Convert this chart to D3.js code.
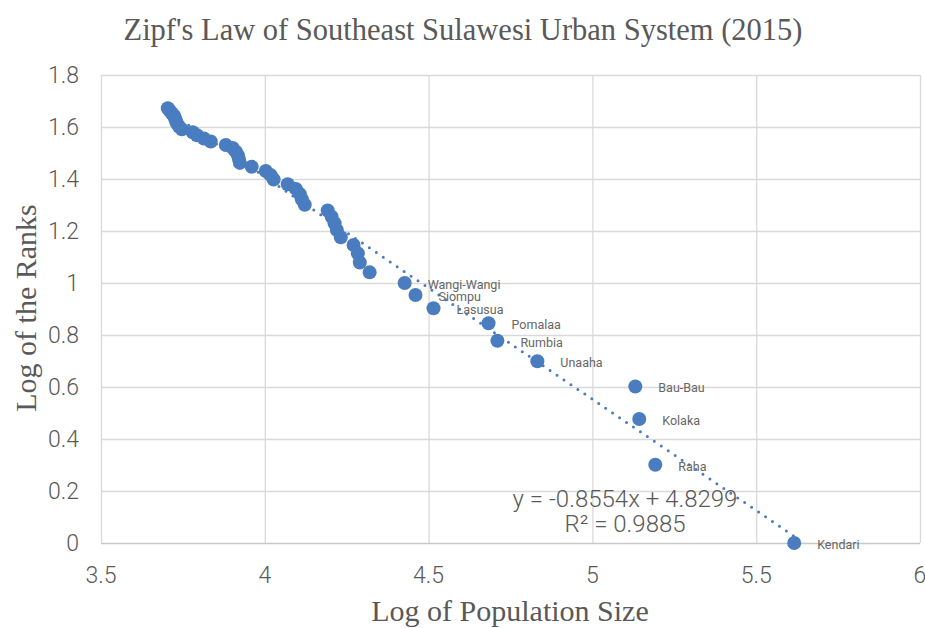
<!DOCTYPE html>
<html>
<head>
<meta charset="utf-8">
<script src="https://cdn.jsdelivr.net/npm/d3@7"></script>
<style>
  body { margin: 0; background: #fff; }
  svg text { fill: #595959; }
</style>
</head>
<body>
<div id="chart"></div>
<script>
// values, ordered by rank (1 = largest town)
const cityNames = ["Kendari", "Raha", "Kolaka", "Bau-Bau", "Unaaha", "Rumbia", "Pomalaa",
  "Lasusua", "Siompu", "Wangi-Wangi"];

const logPop = [5.616, 5.192, 5.143, 5.131, 4.832, 4.710, 4.683, 4.515, 4.460, 4.427,
  4.320, 4.290, 4.284, 4.271, 4.232, 4.220, 4.213, 4.204, 4.192, 4.122,
  4.113, 4.107, 4.095, 4.070, 4.027, 4.018, 4.003, 3.960, 3.924, 3.921,
  3.918, 3.912, 3.902, 3.881, 3.835, 3.814, 3.793, 3.780, 3.747, 3.738,
  3.732, 3.729, 3.726, 3.723, 3.716, 3.710, 3.704];

const logRank = [0, 0.301, 0.477, 0.602, 0.699, 0.778, 0.845, 0.903, 0.954, 1.0,
  1.041, 1.079, 1.114, 1.146, 1.176, 1.204, 1.230, 1.255, 1.279, 1.301,
  1.322, 1.342, 1.362, 1.380, 1.398, 1.415, 1.431, 1.447, 1.462, 1.477,
  1.491, 1.505, 1.519, 1.531, 1.544, 1.556, 1.568, 1.580, 1.591, 1.602,
  1.613, 1.623, 1.633, 1.643, 1.653, 1.663, 1.672];

const xTicks = [3.5, 4, 4.5, 5, 5.5, 6];
const yTicks = [0, 0.2, 0.4, 0.6, 0.8, 1, 1.2, 1.4, 1.6, 1.8];

// trendline as printed on the chart
const slope = -0.8554;
const intercept = 4.8299;
const rSquared = 0.9885;

const W = 925, H = 628;
const blue = "#4a7cc0";

let svg = d3.select("#chart").append("svg")
  .attr("width", W)
  .attr("height", H);

let x = d3.scaleLinear().domain([3.5, 6]).range([101, 920]);
let y = d3.scaleLinear().domain([0, 1.8]).range([543, 75]);

// gridlines
svg.append("g")
  .attr("transform", "translate(0,543)")
  .call(d3.axisBottom(x).tickValues(xTicks).tickSize(-468).tickFormat(""))
  .call(g => g.select(".domain").remove())
  .call(g => g.selectAll("line").attr("stroke", "#d9d9d9").attr("stroke-width", 1.3));

svg.append("g")
  .attr("transform", "translate(101,0)")
  .call(d3.axisLeft(y).tickValues(yTicks).tickSize(-819).tickFormat(""))
  .call(g => g.select(".domain").remove())
  .call(g => g.selectAll("line").attr("stroke", d => d == 0 ? "#c8c8c8" : "#d9d9d9").attr("stroke-width", 1.3));

// tick labels
svg.append("g")
  .selectAll("text")
  .data(xTicks)
  .enter()
  .append("text")
  .attr("x", d => x(d))
  .attr("y", 583)
  .attr("text-anchor", "middle")
  .style("font", "300 23px Roboto")
  .text(d => d);

svg.append("g")
  .selectAll("text")
  .data(yTicks)
  .enter()
  .append("text")
  .attr("x", 79)
  .attr("y", d => y(d) + 8)
  .attr("text-anchor", "end")
  .style("font", "300 23px Roboto")
  .text(d => d);

// points
let pts = logPop.map((v, i) => ({ x: v, y: logRank[i], name: cityNames[i] || "" }));

svg.append("g")
  .selectAll("circle")
  .data(pts.slice().reverse())
  .enter()
  .append("circle")
  .attr("cx", d => x(d.x))
  .attr("cy", d => y(d.y))
  .attr("r", 7)
  .attr("fill", blue);

// trendline (dotted)
let xMin = d3.min(logPop), xMax = d3.max(logPop);
svg.append("line")
  .attr("x1", x(xMin))
  .attr("y1", y(slope * xMin + intercept))
  .attr("x2", x(xMax))
  .attr("y2", y(slope * xMax + intercept))
  .attr("stroke", blue)
  .attr("stroke-width", 3)
  .attr("stroke-linecap", "round")
  .attr("stroke-dasharray", "0 8.4");

// data labels
svg.append("g")
  .selectAll("text")
  .data(pts.filter(d => d.name))
  .enter()
  .append("text")
  .attr("x", d => x(d.x) + 23)
  .attr("y", d => y(d.y) + 6)
  .style("font", "12.5px Roboto")
  .style("fill", "#666")
  .text(d => d.name);

// equation
svg.append("text")
  .attr("x", 625)
  .attr("y", 507)
  .attr("text-anchor", "middle")
  .style("font", "300 24px Roboto")
  .text("y = " + slope + "x + " + intercept);

svg.append("text")
  .attr("x", 625)
  .attr("y", 532)
  .attr("text-anchor", "middle")
  .style("font", "300 24px Roboto")
  .text("R² = " + rSquared);

// titles
svg.append("text")
  .attr("x", 463)
  .attr("y", 40)
  .attr("text-anchor", "middle")
  .style("font", "30.5px 'Liberation Serif'")
  .text("Zipf's Law of Southeast Sulawesi Urban System (2015)");

svg.append("text")
  .attr("x", 510)
  .attr("y", 621)
  .attr("text-anchor", "middle")
  .style("font", "30px 'Liberation Serif'")
  .text("Log of Population Size");

svg.append("text")
  .attr("transform", "translate(36,308) rotate(-90)")
  .attr("text-anchor", "middle")
  .style("font", "30px 'Liberation Serif'")
  .text("Log of the Ranks");
</script>
</body>
</html>
